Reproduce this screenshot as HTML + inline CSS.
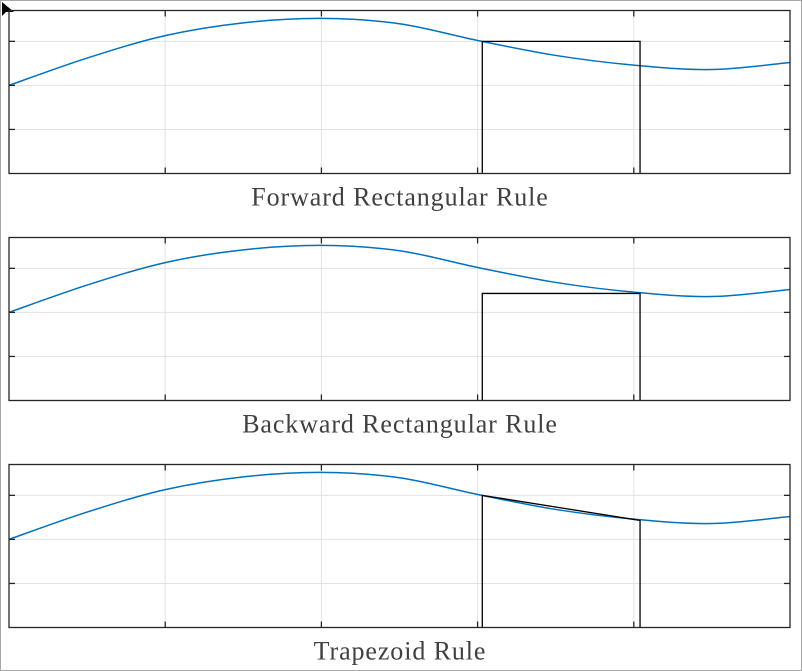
<!DOCTYPE html>
<html><head><meta charset="utf-8"><style>
html,body{margin:0;padding:0;background:#fff}
#wrap{position:relative;width:802px;height:671px;overflow:hidden;background:#fff}
</style></head><body>
<div id="wrap">
<svg id="svg" width="802" height="671" xmlns="http://www.w3.org/2000/svg">
<rect x="0.5" y="0.5" width="801" height="670" fill="#fff" stroke="#a8a8a8"/>
<polygon points="2,2 2,16 6,12 14,12" fill="#000"/>
</svg>
</div>
<script>
// data
const sampleT = [0,0.5,1,1.5,2,2.5,3,3.5,4,4.5,5];
const sampleY = [2.0,2.62,3.13,3.42,3.52,3.40,3.02,2.68,2.46,2.36,2.52];
const xTicks = [0,1,2,3,4,5];
const yTicks = [0,1,2,3];
const ruleA = 3.03, ruleB = 4.04;
const fA = 3.0, fB = 2.43;
const titles = ["Forward Rectangular Rule","Backward Rectangular Rule","Trapezoid Rule"];
const ruleKinds = ["forward","backward","trapezoid"];

const svg = document.getElementById('svg');
const NS = 'http://www.w3.org/2000/svg';
const L = 9, R = 790, H = 163, xMax = 5, yMax = 3.7;
const tops = [10.5, 237.5, 464.5];

function mk(tag, attrs, parent){const e=document.createElementNS(NS,tag);for(const k in attrs)e.setAttribute(k,attrs[k]);(parent||svg).appendChild(e);return e;}

function catmull(pts){
  let d = 'M'+pts[0][0]+','+pts[0][1];
  for(let i=0;i<pts.length-1;i++){
    const p0=pts[Math.max(0,i-1)],p1=pts[i],p2=pts[i+1],p3=pts[Math.min(pts.length-1,i+2)];
    const c1=[p1[0]+(p2[0]-p0[0])/6,p1[1]+(p2[1]-p0[1])/6];
    const c2=[p2[0]-(p3[0]-p1[0])/6,p2[1]-(p3[1]-p1[1])/6];
    d+=' C'+c1[0]+','+c1[1]+' '+c2[0]+','+c2[1]+' '+p2[0]+','+p2[1];
  }
  return d;
}

tops.forEach((top, p) => {
  const bottom = top + H;
  const xs = v => L + v/xMax*(R-L);
  const ys = v => bottom - v/yMax*H;
  const g = mk('g', {});
  
  
  xTicks.slice(1,-1).forEach(t => {
    const l = mk('line',{x1:xs(t),x2:xs(t),y1:top,y2:bottom,stroke:'#e3e3e3','stroke-width':1},g);
    
    
  });
  yTicks.slice(1).forEach(t => {
    const l = mk('line',{x1:L,x2:R,y1:ys(t),y2:ys(t),stroke:'#e3e3e3','stroke-width':1},g);
    
    
  });
  const pts = sampleT.map((t,i)=>[xs(t),ys(sampleY[i])]);
  const c = mk('path',{d:catmull(pts),fill:'none',stroke:'#0072bd','stroke-width':1.5},g);
  
  
  const kind = ruleKinds[p];
  let hA, hB;
  if(kind==='forward'){hA=fA;hB=fA;}
  else if(kind==='backward'){hA=fB;hB=fB;}
  else {hA=fA;hB=fB;}
  const r = mk('path',{d:`M${xs(ruleA)},${bottom} L${xs(ruleA)},${ys(hA)} L${xs(ruleB)},${ys(hB)} L${xs(ruleB)},${bottom}`,fill:'none',stroke:'#000','stroke-width':1.3},g);
  
  
  const b = mk('rect',{x:L,y:top,width:R-L,height:H,fill:'none',stroke:'#262626','stroke-width':1.3},g);
  
  
  xTicks.slice(1,-1).forEach(t => {
    const a = mk('line',{x1:xs(t),x2:xs(t),y1:bottom,y2:bottom-6,stroke:'#262626','stroke-width':1.3},g);
    
    
    const bb = mk('line',{x1:xs(t),x2:xs(t),y1:top,y2:top+6,stroke:'#262626','stroke-width':1.3},g);
    
    
  });
  yTicks.slice(1).forEach(t => {
    const a = mk('line',{x1:L,x2:L+6,y1:ys(t),y2:ys(t),stroke:'#262626','stroke-width':1.3},g);
    
    
    const bb = mk('line',{x1:R,x2:R-6,y1:ys(t),y2:ys(t),stroke:'#262626','stroke-width':1.3},g);
    
    
  });
  const tx = mk('text',{x:400,y:bottom+32,'text-anchor':'middle','font-family':'"Liberation Serif", serif','font-size':26,'letter-spacing':'0.9',fill:'#404040'},g);
  tx.textContent = titles[p];
  
  
});
</script>
</body></html>
